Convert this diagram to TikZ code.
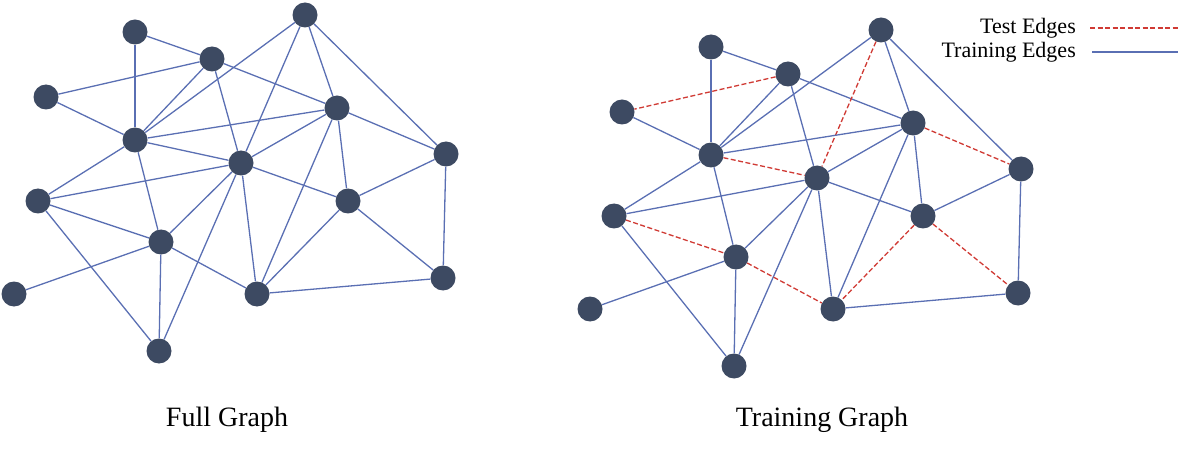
\documentclass[tikz,border=0pt]{standalone}
\usepackage{fontspec}
\setmainfont{Liberation Serif}
\definecolor{vertexcol}{HTML}{3D4A62}
\definecolor{trainblue}{HTML}{5A6FB3}
\definecolor{testred}{HTML}{D03A34}

\begin{document}
\begin{tikzpicture}[x=1pt,y=-1pt,every node/.style={circle,fill=vertexcol,minimum size=25pt,inner sep=0pt},
  train/.style={draw=trainblue,line width=1.3pt},
  test/.style={draw=testred,line width=1.3pt,dash pattern=on 5pt off 2.5pt},
  caption/.style={fill=none,rectangle,minimum size=0pt,inner sep=0pt,font=\fontsize{28}{32}\selectfont},
  legend/.style={fill=none,rectangle,minimum size=0pt,inner sep=0pt,font=\fontsize{22}{24}\selectfont}]
\useasboundingbox (0,0) rectangle (1178,449);
\node (a0) at (135,32)  {};
\node (b0) at (212,59)  {};
\node (c0) at (305,15)  {};
\node (d0) at (46,97)   {};
\node (e0) at (135,140) {};
\node (f0) at (337,108) {};
\node (g0) at (241,163) {};
\node (h0) at (446,154) {};
\node (i0) at (38,201)  {};
\node (j0) at (348,201) {};
\node (k0) at (161,242) {};
\node (l0) at (14,294)  {};
\node (m0) at (257,294) {};
\node (n0) at (443,278) {};
\node (o0) at (159,351) {};
\node (a1) at (711,47)  {};
\node (b1) at (788,74)  {};
\node (c1) at (881,30)  {};
\node (d1) at (622,112) {};
\node (e1) at (711,155) {};
\node (f1) at (913,123) {};
\node (g1) at (817,178) {};
\node (h1) at (1021,169) {};
\node (i1) at (614,216) {};
\node (j1) at (923,216) {};
\node (k1) at (736,257) {};
\node (l1) at (590,309) {};
\node (m1) at (833,309) {};
\node (n1) at (1018,293) {};
\node (o1) at (734,366) {};
\node[caption] (full)  at (227,420) {Full Graph};
\node[caption] (trainG) at (822,420) {Training Graph};
\node[legend,anchor=base east] (testL)  at (1076,34) {Test Edges};
\node[legend,anchor=base east] (trainL) at (1076,58) {Training Edges};
\coordinate (ts) at (1090,28);
\coordinate (te) at (1178,28);
\coordinate (rs) at (1092,52);
\coordinate (re) at (1178,52);
\draw[test]  (ts) -- (te);
\draw[train] (rs) -- (re);
\draw[train] (a0) edge (e0);
\draw[train] (a0) edge (b0);
\draw[train] (b0) edge (d0);
\draw[train] (b0) edge (e0);
\draw[train] (b0) edge (g0);
\draw[train] (b0) edge (f0);
\draw[train] (d0) edge (e0);
\draw[train] (c0) edge (e0);
\draw[train] (c0) edge (g0);
\draw[train] (c0) edge (f0);
\draw[train] (c0) edge (h0);
\draw[train] (e0) edge (f0);
\draw[train] (e0) edge (g0);
\draw[train] (e0) edge (i0);
\draw[train] (e0) edge (k0);
\draw[train] (f0) edge (g0);
\draw[train] (f0) edge (h0);
\draw[train] (f0) edge (j0);
\draw[train] (f0) edge (m0);
\draw[train] (g0) edge (i0);
\draw[train] (g0) edge (j0);
\draw[train] (g0) edge (k0);
\draw[train] (g0) edge (m0);
\draw[train] (g0) edge (o0);
\draw[train] (h0) edge (j0);
\draw[train] (h0) edge (n0);
\draw[train] (j0) edge (n0);
\draw[train] (j0) edge (m0);
\draw[train] (i0) edge (k0);
\draw[train] (i0) edge (o0);
\draw[train] (k0) edge (l0);
\draw[train] (k0) edge (o0);
\draw[train] (k0) edge (m0);
\draw[train] (m0) edge (n0);
\draw[train] (a1) edge (e1);
\draw[train] (a1) edge (b1);
\draw[test]  (b1) edge (d1);
\draw[train] (b1) edge (e1);
\draw[train] (b1) edge (g1);
\draw[train] (b1) edge (f1);
\draw[train] (d1) edge (e1);
\draw[train] (c1) edge (e1);
\draw[test]  (c1) edge (g1);
\draw[train] (c1) edge (f1);
\draw[train] (c1) edge (h1);
\draw[train] (e1) edge (f1);
\draw[test]  (e1) edge (g1);
\draw[train] (e1) edge (i1);
\draw[train] (e1) edge (k1);
\draw[train] (f1) edge (g1);
\draw[test]  (f1) edge (h1);
\draw[train] (f1) edge (j1);
\draw[train] (f1) edge (m1);
\draw[train] (g1) edge (i1);
\draw[train] (g1) edge (j1);
\draw[train] (g1) edge (k1);
\draw[train] (g1) edge (m1);
\draw[train] (g1) edge (o1);
\draw[train] (h1) edge (j1);
\draw[train] (h1) edge (n1);
\draw[test]  (j1) edge (n1);
\draw[test]  (j1) edge (m1);
\draw[test]  (i1) edge (k1);
\draw[train] (i1) edge (o1);
\draw[train] (k1) edge (l1);
\draw[train] (k1) edge (o1);
\draw[test]  (k1) edge (m1);
\draw[train] (m1) edge (n1);
\end{tikzpicture}
\end{document}
